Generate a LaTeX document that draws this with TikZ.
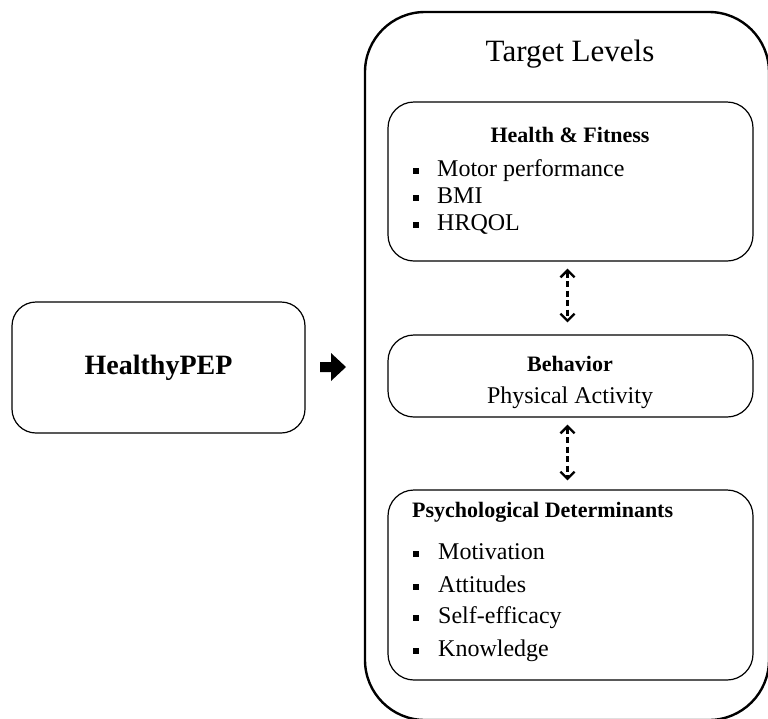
\documentclass[tikz,border=0pt]{standalone}
\usepackage{fontspec}
\setmainfont{Liberation Serif}
\usetikzlibrary{arrows.meta}
\begin{document}
\begin{tikzpicture}[x=1pt,y=-1pt,
  outerbox/.style={draw, line width=2.4pt, rounded corners=60pt},
  levelbox/.style={draw, line width=1.2pt, rounded corners=26pt, inner sep=0pt},
  heading/.style={font=\bfseries\fontsize{22}{26}\selectfont, inner sep=0pt},
  plain/.style={font=\fontsize{24}{28}\selectfont, inner sep=0pt},
  item/.style={plain, anchor=mid west},
  sqbullet/.style={fill=black, minimum size=6.5pt, inner sep=0pt},
  link/.style={dashed, dash pattern=on 6pt off 3.5pt, line width=2.6pt,
    {Straight Barb[length=7pt,width=14pt,line width=2.4pt]}-{Straight Barb[length=7pt,width=14pt,line width=2.4pt]}}
]
\clip (0,0) rectangle (768,718);

% intervention box and push arrow
\node (pep) [levelbox, rounded corners=24pt, minimum width=293pt, minimum height=131pt] at (158.5,367.5) {};
\node (peplabel) [font=\bfseries\fontsize{28}{32}\selectfont, inner sep=0pt] at (pep.center) {HealthyPEP};
\fill (320,362) -- (331,362) -- (331,353) -- (346,367) -- (331,381) -- (331,372) -- (320,372) -- cycle;

% frame around the target levels
\draw[outerbox] (365,12) rectangle (769,720);
\node (frametitle) [font=\fontsize{31}{35}\selectfont, inner sep=0pt] at (570,54) {Target Levels};

% health & fitness
\node (health) [levelbox, minimum width=365pt, minimum height=159pt] at (570.5,181.5) {};
\node (healthtitle) [heading] at (570,135) {Health \& Fitness};
\node (h1) [item] at (437,174) {Motor performance};
\node (h2) [item] at (437,201) {BMI};
\node (h3) [item] at (437,228) {HRQOL};
\foreach \n/\y in {hb1/171, hb2/198, hb3/225}
  \node (\n) [sqbullet] at (416,\y) {};

% behavior
\node (behav) [levelbox, minimum width=365pt, minimum height=82pt] at (570.5,376) {};
\node (behavtitle) [heading] at (570,364) {Behavior};
\node (behavtext) [plain] at (570,398) {Physical Activity};

% psychological determinants
\node (psych) [levelbox, minimum width=365pt, minimum height=190pt] at (570.5,585) {};
\node (psychtitle) [heading, anchor=mid west] at (412,515) {Psychological Determinants};
\node (p1) [item] at (438,557) {Motivation};
\node (p2) [item] at (438,590) {Attitudes};
\node (p3) [item] at (438,621) {Self-efficacy};
\node (p4) [item] at (438,654) {Knowledge};
\foreach \n/\y in {pb1/554, pb2/587, pb3/618, pb4/651}
  \node (\n) [sqbullet] at (416,\y) {};

% links between the levels
\draw[link, shorten <=7pt, shorten >=12pt] ([xshift=-3pt]health.south) -- ([xshift=-3pt]behav.north);
\draw[link, shorten <=7pt, shorten >=9pt] ([xshift=-3pt]behav.south) -- ([xshift=-3pt]psych.north);
\end{tikzpicture}
\end{document}
